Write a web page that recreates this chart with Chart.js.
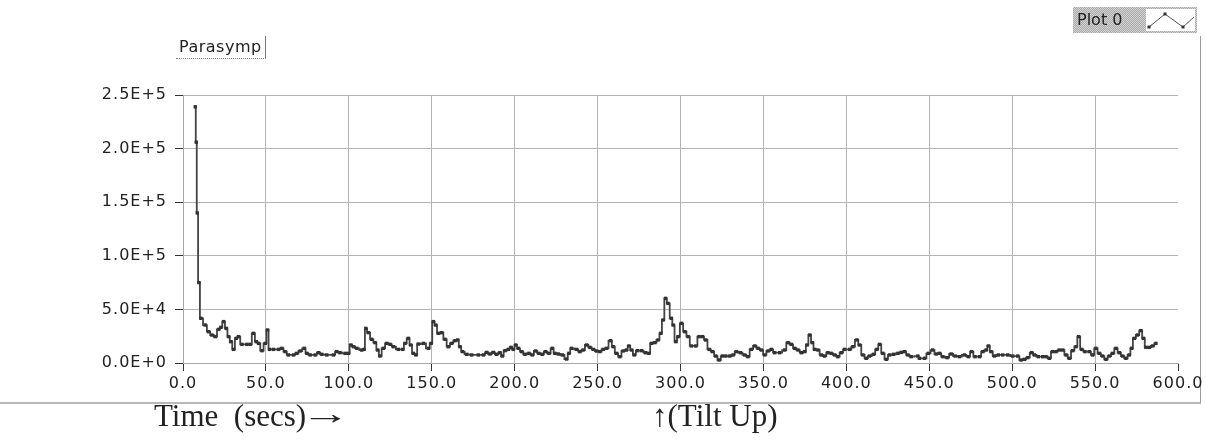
<!DOCTYPE html>
<html>
<head>
<meta charset="utf-8">
<script src="https://cdn.jsdelivr.net/npm/chart.js@4"></script>
<style>
  html, body { margin: 0; padding: 0; background: #fff; }
  #wrap { position: relative; width: 1206px; height: 444px; overflow: hidden; }
  #chart { position: absolute; left: 0; top: 0; }
  .frame { position: absolute; left: -2px; top: 36px; width: 1202px; height: 366px;
           border-right: 1px solid #9a9a9a; border-bottom: 2px solid #b8b8b8; }
  .plot-title { position: absolute; left: 176px; top: 36px; padding: 1px 3px 2px 3px;
                font: 16px "DejaVu Sans", sans-serif; letter-spacing: 0.5px; color: #222;
                border-right: 1px solid #777; border-bottom: 1px dotted #888; }
  .legend { position: absolute; left: 1073px; top: 7px; width: 124px; height: 26px;
            background: repeating-conic-gradient(#a9a9a9 0 25%, #d4d4d4 0 50%) 0 0 / 2px 2px; }
  .legend span { position: absolute; left: 4px; top: 3px; font: 16px "DejaVu Sans", sans-serif; color: #222; }
  .legend svg { position: absolute; left: 73px; top: 2px; background: #fff; }
  .note { position: absolute; font: 31px "Liberation Serif", serif; color: #222; white-space: pre; }
  .note .arrow { display: inline-block; margin-left: -5px; transform: scaleX(1.6) translateY(-2px);
                 transform-origin: left center; }
</style>
</head>
<body>
<div id="wrap">
  <div class="frame"></div>
  <canvas id="chart" width="1206" height="444"></canvas>
  <div class="plot-title">Parasymp</div>
  <div class="legend">
    <span>Plot 0</span>
    <svg width="49" height="22" viewBox="0 0 49 22">
      <polyline points="3,18 19,5 37,18 48,8" fill="none" stroke="#555" stroke-width="1"/>
      <rect x="1.5" y="16.5" width="3" height="3" fill="#333"/>
      <rect x="17.5" y="3.5" width="3" height="3" fill="#333"/>
      <rect x="35.5" y="16.5" width="3" height="3" fill="#333"/>
    </svg>
  </div>
  <div class="note" style="left:154px; top:398px;">Time  (secs)<span class="arrow">→</span></div>
  <div class="note" style="left:652px; top:398px;">↑(Tilt Up)</div>
</div>
<script>
(function () {
    "use strict";

    // time stamps (s) and parasympathetic power
    const times = [
        7.4, 8.0, 8.6, 9.6, 10.8, 13.4, 15.4, 17.4, 19.5, 21.5, 22.9, 24.5, 26.1, 27.5, 28.9, 30.5,
        32.1, 33.5, 35.5, 38.5, 40.5, 42.5, 44.2, 45.6, 47.6, 49.6, 51.0, 52.2, 54.6, 57.6, 59.6, 61.6,
        63.6, 66.6, 68.6, 70.7, 73.1, 74.7, 76.7, 79.7, 81.7, 83.7, 86.7, 90.7, 92.7, 94.7, 97.8, 99.8,
        101.2, 102.8, 104.8, 107.8, 109.2, 110.2, 111.8, 113.8, 115.8, 117.4, 118.8, 120.8, 122.9, 124.9,
        126.9, 129.9, 132.5, 133.9, 135.9, 137.3, 138.9, 140.5, 141.9, 145.0,
        148.0, 149.6, 151.0, 152.4, 154.0, 156.0, 158.0, 160.0, 162.0, 164.0, 165.6, 167.0, 168.5, 171.1,
        174.1, 178.1, 181.1, 183.1, 185.1, 187.1, 189.1, 191.1, 192.5, 194.2, 196.2, 197.8, 199.2, 200.6,
        202.2, 204.2, 206.2, 208.6, 210.6, 212.6, 214.6, 216.6, 218.6, 220.7, 222.7, 224.3, 226.3, 228.7,
        231.3, 232.7, 234.3, 237.3, 239.3, 241.3, 243.4, 245.4, 247.4, 249.4, 251.4, 253.4, 255.4, 257.8,
        259.4, 261.4, 263.4, 265.4, 267.4, 268.9, 270.5, 272.1, 274.1, 276.5, 278.9, 280.9, 282.5, 284.5,
        286.5, 288.1, 289.5, 291.0, 292.5, 294.5,
        295.6, 297.2, 298.6, 300.6, 302.6, 304.6, 306.6, 309.2, 311.2, 313.2, 315.2, 317.3, 319.3, 321.3,
        323.3, 325.3, 327.3, 329.7, 331.7, 333.7, 336.1, 338.7, 340.7, 342.7, 344.8, 346.8, 348.8, 350.8,
        352.8, 354.8, 356.8, 359.8, 362.8, 364.8, 366.8, 368.9, 370.9, 372.9, 374.9, 376.3, 377.9, 379.5,
        380.9, 382.9, 384.9, 386.9, 388.9, 390.9, 393.0, 394.9, 397.0, 399.0, 402.0, 404.0, 406.4, 408.0,
        410.0, 412.0, 414.0, 416.4, 418.4, 420.1, 422.0, 424.1, 426.1, 428.5, 431.1, 433.1, 435.1, 437.1,
        439.1, 443.1,
        444.1, 447.1, 449.5, 452.1, 454.2, 456.2, 458.2, 460.8, 463.2, 465.6, 468.2, 471.2, 473.6, 475.6,
        477.6, 480.3, 482.3, 484.3, 485.7, 487.3, 489.3, 491.7, 494.3, 497.3, 500.3, 503.3, 505.4, 507.4,
        509.4, 511.8, 513.4, 515.8, 518.4, 520.4, 522.4, 524.4, 526.4, 528.4, 530.5, 532.5, 534.5, 536.5,
        538.5, 540.1, 541.9, 543.9, 546.5, 548.5, 550.5, 552.5, 554.5, 556.6, 558.6, 560.6, 562.6, 564.6,
        566.6, 568.6, 570.6, 572.0, 573.6, 575.6, 577.6, 579.2, 580.7, 582.7, 584.7, 586.7
    ];

    const values = [
        239000, 206000, 140000, 75000, 41700, 35400, 29200, 26100, 24600, 31400, 33300, 38600, 32300, 24600, 19900, 12700,
        23000, 24600, 17400, 17400, 17400, 27700, 19900, 18300, 11500, 18300, 30800, 12700, 12700, 12700, 13700, 10600,
        7500, 7500, 9000, 11200, 13700, 9000, 7500, 7500, 9600, 8100, 7500, 7500, 10600, 9600, 9000, 9000,
        16800, 15200, 13700, 12100, 12700, 32300, 28300, 22100, 19000, 12100, 6500, 13700, 18300, 17400,
        15200, 12700, 12700, 18300, 23000, 16800, 9000, 7500, 17700, 18300,
        13700, 18300, 38600, 35400, 27700, 28300, 22100, 15200, 18300, 20800, 21500, 15200, 10600, 8100,
        7500, 7500, 7500, 9900, 8400, 9900, 8100, 9600, 6500, 11500, 12700, 14600, 12700, 16800,
        13700, 10600, 8100, 9000, 7500, 11200, 9000, 8100, 10600, 9000, 13700, 9000, 8400, 7500,
        3700, 9000, 13700, 12700, 10600, 12100, 16800, 14600, 12700, 11200, 10600, 12700, 13700, 20800,
        15200, 9000, 5900, 11200, 12100, 15900, 12100, 7500, 11500, 11500, 9600, 9000, 18300, 19000,
        21500, 27700, 40100, 60300, 55600, 41700,
        35400, 19900, 24600, 37000, 29200, 24600, 15900, 15900, 24600, 24600, 21500, 12700, 10600, 6500,
        2800, 6500, 6500, 6500, 7500, 10600, 9600, 7500, 5900, 12700, 15900, 13700, 12100, 7500,
        11200, 12700, 9600, 9600, 12100, 19000, 17400, 13700, 12100, 9600, 10600, 16800, 26100, 19000,
        12700, 12100, 7500, 6500, 9600, 9000, 7500, 5900, 9600, 12700, 12700, 15200, 21500, 16800,
        7500, 4400, 6500, 8100, 12700, 17400, 9000, 3400, 7500, 8100, 9000, 9900, 10600, 7500,
        5900, 6500,
        4400, 4400, 9000, 12100, 8400, 9000, 5900, 5000, 8400, 6500, 5900, 7500, 5900, 10600,
        5900, 5900, 10600, 12100, 15900, 10600, 6500, 7500, 7500, 7500, 6500, 6500, 2800, 3400,
        5000, 9600, 7500, 5900, 5900, 5900, 4400, 10600, 10600, 12100, 12100, 7500, 4400, 11500,
        15200, 24600, 12700, 10600, 10600, 7500, 13700, 9000, 6500, 3400, 6500, 9000, 13700, 9600,
        6500, 4400, 7500, 13700, 23000, 26100, 30200, 23000, 14600, 14600, 15900, 18300
    ];

    const xTicks = [0, 50, 100, 150, 200, 250, 300, 350, 400, 450, 500, 550, 600];
    const yTicks = [0, 50000, 100000, 150000, 200000, 250000];

    const points = times.map(function (t, i) { return { x: t, y: values[i] }; });

    // 2.5E+5 style labels
    function sciLabel(v) {
        if (v === 0) return "0.0E+0";
        const e = Math.floor(Math.log10(v));
        return (v / Math.pow(10, e)).toFixed(1) + "E+" + e;
    }

    const tickFont = { family: "DejaVu Sans", size: 16 };

    // wider spacing for the axis numbers
    const spacedText = {
        id: "spacedText",
        beforeDraw: function (chart) { chart.ctx.letterSpacing = "1px"; },
    };

    let ctx = document.getElementById("chart").getContext("2d");
    let parasympChart = new Chart(ctx, {
        type: "line",
        data: {
            datasets: [
                {
                    label: "Plot 0",
                    data: points,
                    borderColor: "#444",
                    borderWidth: 1.8,
                    stepped: "middle",
                    pointStyle: "rect",
                    pointRadius: 2.4,
                    pointBackgroundColor: "#333",
                    pointBorderWidth: 0,
                },
            ],
        },
        plugins: [spacedText],
        options: {
            responsive: false,
            animation: false,
            layout: { padding: { left: 0, right: 28, top: 95, bottom: 51 } },
            plugins: {
                legend: { display: false },
                tooltip: { enabled: false },
            },
            scales: {
                x: {
                    type: "linear",
                    min: 0,
                    max: 600,
                    afterBuildTicks: function (scale) {
                        scale.ticks = xTicks.map(function (v) { return { value: v }; });
                    },
                    afterFit: function (scale) { scale.height = 30; },
                    ticks: {
                        callback: function (v) { return v.toFixed(1); },
                        font: tickFont,
                        color: "#222",
                        padding: 3,
                        maxRotation: 0,
                        autoSkip: false,
                    },
                    grid: {
                        color: function (c) {
                            return c.tick && c.tick.value === 600 ? "rgba(0,0,0,0)" : "#b3b3b3";
                        },
                        tickColor: "#333",
                        tickLength: 8,
                    },
                    border: { color: "#a8a8a8" },
                },
                y: {
                    min: 0,
                    max: 250000,
                    afterBuildTicks: function (scale) {
                        scale.ticks = yTicks.map(function (v) { return { value: v }; });
                    },
                    afterFit: function (scale) { scale.width = 183; },
                    ticks: {
                        callback: sciLabel,
                        font: tickFont,
                        color: "#222",
                        padding: 8,
                    },
                    grid: {
                        color: "#b3b3b3",
                        tickColor: "#333",
                        tickLength: 8,
                    },
                    border: { color: "#a8a8a8" },
                },
            },
        },
    });
})();
</script>
</body>
</html>
